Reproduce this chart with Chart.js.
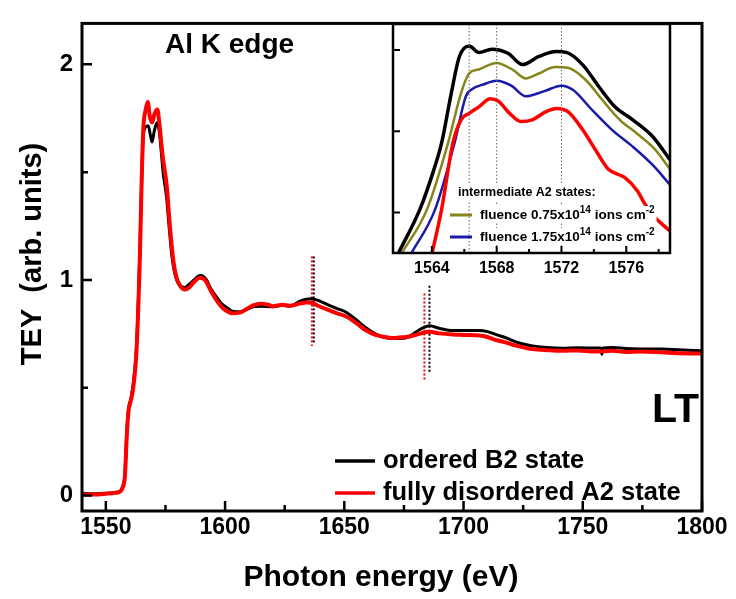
<!DOCTYPE html>
<html>
<head>
<meta charset="utf-8">
<script src="https://cdn.jsdelivr.net/npm/chart.js@4/dist/chart.umd.min.js"></script>
<style>
html,body{margin:0;padding:0;background:#fff;}
#wrap{position:relative;width:736px;height:599px;}
#main{position:absolute;left:0;top:0;}
#inset{position:absolute;left:353px;top:14px;}
</style>
</head>
<body>
<div id="wrap">
<canvas id="main" width="736" height="599"></canvas>
<canvas id="inset" width="340" height="270"></canvas>
</div>
<script>
// ---------- main panel data ----------
const energyB2 = [1540,1545,1550,1554,1556,1557,1558,1558.8,1559.5,1560.5,1561.5,1562.9,1564.3,1565.0,1565.7,1566.8,1567.8,1568.7,1569.4,1570.3,1571.5,1572.5,1573.2,1574,1575.5,1576.5,1577.6,1578.7,1579.7,1581,1583.1,1585,1587,1589.4,1591,1592.2,1594,1597.1,1599,1601.3,1603,1606.2,1609,1611.7,1615,1620.1,1624,1627.1,1631.3,1634,1636.2,1639,1643,1647,1650.8,1655,1659.2,1663,1667,1670.4,1673,1676,1679,1681.5,1684,1685.7,1690,1695.5,1700,1706.7,1710,1714,1717.9,1722,1726,1729,1735,1741.5,1748,1755,1757.5,1758,1758.5,1762.5,1768,1774,1783.4,1790,1800];
const teyB2 = [0.01,0.008,0.01,0.015,0.02,0.04,0.1,0.3,0.4,0.45,0.52,0.70,1.15,1.45,1.67,1.71,1.715,1.67,1.64,1.69,1.73,1.68,1.60,1.50,1.38,1.25,1.12,1.04,1.0,0.975,0.965,0.98,1.0,1.02,1.015,1.0,0.96,0.91,0.885,0.867,0.855,0.852,0.862,0.875,0.878,0.875,0.882,0.878,0.90,0.91,0.913,0.905,0.885,0.867,0.85,0.815,0.777,0.75,0.733,0.728,0.728,0.731,0.75,0.769,0.782,0.787,0.775,0.765,0.765,0.765,0.76,0.745,0.731,0.712,0.70,0.694,0.686,0.683,0.685,0.684,0.684,0.655,0.684,0.686,0.682,0.68,0.679,0.676,0.671];
const energyA2 = [1540,1545,1550,1554,1556,1557,1558,1558.8,1559.5,1560.5,1561.5,1562.9,1564.3,1565.0,1565.7,1566.7,1567.6,1568.4,1569.4,1570.4,1571.6,1572.5,1573.3,1574,1575.5,1576.5,1577.6,1578.7,1579.7,1581,1583.1,1585,1587,1589.4,1591,1592.2,1594,1597.1,1599,1601.3,1603,1606.2,1609,1611.7,1615,1618,1620.1,1624,1627.1,1631.3,1634,1636.2,1639,1643,1647,1650.8,1655,1659.2,1663,1667,1670.4,1673,1676,1679,1681.5,1684,1685.7,1690,1695.5,1700,1706.7,1710,1714,1717.9,1722,1726,1729,1735,1741.5,1748,1755,1762.5,1768,1774,1783.4,1790,1800];
const teyA2 = [0.005,0.005,0.008,0.012,0.018,0.035,0.09,0.28,0.39,0.44,0.5,0.68,1.12,1.45,1.70,1.79,1.825,1.76,1.73,1.77,1.79,1.72,1.63,1.56,1.44,1.30,1.16,1.06,1.01,0.975,0.955,0.965,0.99,1.01,1.005,0.99,0.95,0.895,0.87,0.852,0.845,0.848,0.865,0.882,0.89,0.885,0.878,0.885,0.88,0.89,0.895,0.894,0.88,0.862,0.845,0.83,0.80,0.765,0.745,0.735,0.731,0.733,0.735,0.742,0.75,0.757,0.759,0.752,0.747,0.745,0.742,0.735,0.72,0.709,0.695,0.685,0.679,0.674,0.671,0.673,0.668,0.671,0.666,0.668,0.664,0.66,0.659];
// dotted marker lines [energy, yStart, yEnd]
const markB2 = [[1637.2,1.109,0.71],[1685.7,0.973,0.566]];
const markA2 = [[1636.4,1.109,0.694],[1683.6,0.937,0.534]];
const xMajor = [1550,1600,1650,1700,1750,1800];
const xMinor = [1575,1625,1675,1725,1775];
const yMajor = [0,1,2];
const yMinor = [0.5,1.5];
const xTitle = 'Photon energy (eV)';
const yTitle = 'TEY  (arb. units)';

// ---------- inset data ----------
const insE_B2 = [1561.9,1563.26,1564.0,1564.6,1565.2,1565.7,1566.3,1566.9,1567.7,1568.7,1569.6,1570.6,1571.7,1572.3,1573.3,1574.3,1575.3,1576.4,1577.6,1578.7];
const insY_B2 = [0.485,1.037,1.45,1.855,2.47,2.92,3.05,2.97,3.01,2.96,2.82,2.92,2.98,2.97,2.82,2.55,2.30,2.14,1.94,1.65];
const insE_F075 = [1562.1,1563.7,1565.0,1565.8,1566.3,1566.9,1567.98,1569.0,1569.8,1570.6,1571.6,1572.4,1573.5,1574.5,1575.6,1576.6,1577.8,1578.7];
const insY_F075 = [0.485,1.037,1.855,2.47,2.71,2.76,2.84,2.755,2.65,2.71,2.79,2.78,2.63,2.39,2.14,1.98,1.77,1.53];
const insE_F175 = [1562.7,1564.2,1565.4,1566.1,1566.5,1567.1,1568.0,1568.9,1569.8,1570.9,1572.0,1572.7,1573.9,1575.1,1576.4,1577.6,1578.7];
const insY_F175 = [0.485,1.037,1.855,2.43,2.52,2.57,2.62,2.56,2.43,2.49,2.56,2.51,2.26,2.02,1.81,1.59,1.34];
const insE_A2 = [1564.0,1564.6,1565.3,1565.8,1566.3,1566.9,1567.6,1568.1,1568.8,1569.5,1570.2,1571.05,1571.7,1572.4,1573.3,1574.1,1574.9,1575.9,1576.7,1577.1,1577.6,1578.7];
const insY_A2 = [0.485,1.037,1.855,2.14,2.22,2.30,2.40,2.37,2.22,2.12,2.14,2.24,2.28,2.24,2.02,1.77,1.53,1.43,1.26,1.12,0.975,0.77];
const insGuides = [1566.3,1568.0,1572.0];
const insXMajor = [1564,1568,1572,1576];
const insXMinor = [1562,1566,1570,1574,1578];
const insYMajor = [1,2,3];

const FONT = "'Liberation Sans', Arial, Helvetica, sans-serif";
const zip = (xs, ys) => xs.map((x, i) => ({x: x, y: ys[i]}));

function framePlugin(opts) {
  return {
    id: 'frame' + opts.id,
    afterDatasetsDraw(chart) {
      const {ctx, chartArea: a, scales: {x, y}} = chart;
      ctx.save();
      ctx.strokeStyle = '#000';
      ctx.lineWidth = opts.frameW;
      ctx.strokeRect(a.left, a.top, a.right - a.left, a.bottom - a.top);
      ctx.lineWidth = opts.tickW;
      ctx.beginPath();
      opts.xMajor.forEach(v => { const p = x.getPixelForValue(v); ctx.moveTo(p, a.bottom); ctx.lineTo(p, a.bottom - opts.major); });
      opts.xMinor.forEach(v => { const p = x.getPixelForValue(v); ctx.moveTo(p, a.bottom); ctx.lineTo(p, a.bottom - opts.minor); });
      opts.yMajor.forEach(v => { const p = y.getPixelForValue(v); ctx.moveTo(a.left, p); ctx.lineTo(a.left + opts.major, p); });
      (opts.yMinor || []).forEach(v => { const p = y.getPixelForValue(v); ctx.moveTo(a.left, p); ctx.lineTo(a.left + opts.minor, p); });
      ctx.stroke();
      ctx.restore();
    }
  };
}

const mainText = {
  id: 'mainText',
  afterDraw(chart) {
    const ctx = chart.ctx;
    ctx.save();
    ctx.fillStyle = '#000';
    ctx.textBaseline = 'middle';
    ctx.textAlign = 'center';
    ctx.font = 'bold 30px ' + FONT;
    ctx.fillText(xTitle, 381, 578);
    ctx.font = 'bold 29px ' + FONT;
    ctx.save();
    ctx.translate(33, 254);
    ctx.rotate(-Math.PI / 2);
    ctx.fillText(yTitle, 0, 0);
    ctx.restore();
    ctx.textAlign = 'left';
    ctx.font = 'bold 28px ' + FONT;
    ctx.fillText('Al K edge', 165, 45);
    ctx.font = 'bold 41px ' + FONT;
    ctx.fillText('LT', 652, 411);
    ctx.lineWidth = 3.5;
    ctx.strokeStyle = '#000';
    ctx.beginPath(); ctx.moveTo(335, 461); ctx.lineTo(375, 461); ctx.stroke();
    ctx.strokeStyle = '#ff0000';
    ctx.beginPath(); ctx.moveTo(335, 493); ctx.lineTo(375, 493); ctx.stroke();
    ctx.font = 'bold 25.5px ' + FONT;
    ctx.fillText('ordered B2 state', 383, 461);
    ctx.fillText('fully disordered A2 state', 383, 493);
    ctx.restore();
  }
};

function lineDS(data, color, w, dash) {
  return {data: data, borderColor: color, borderWidth: w, pointRadius: 0, fill: false,
          borderDash: dash || [], cubicInterpolationMode: dash ? 'default' : 'monotone', tension: 0};
}

const mainDatasets = [
  lineDS(zip(energyA2, teyA2), '#ff0000', 4),
  lineDS(zip(energyB2, teyB2), '#000000', 3),
];
markA2.forEach(m => mainDatasets.push(lineDS([{x: m[0], y: m[1]}, {x: m[0], y: m[2]}], '#ff0000', 2, [2, 2])));
markB2.forEach(m => mainDatasets.push(lineDS([{x: m[0], y: m[1]}, {x: m[0], y: m[2]}], '#000000', 2, [2, 2])));

new Chart(document.getElementById('main'), {
  type: 'line',
  data: {datasets: mainDatasets},
  options: {
    responsive: false, animation: false, devicePixelRatio: 1,
    layout: {padding: {top: 11, right: 34, left: 0, bottom: 0}},
    plugins: {legend: {display: false}, tooltip: {enabled: false}},
    scales: {
      x: {
        type: 'linear', min: 1540, max: 1800,
        afterBuildTicks: s => { s.ticks = xMajor.map(v => ({value: v})); },
        afterFit: s => { s.height = 88; },
        ticks: {color: '#000', font: {family: FONT, size: 23, weight: 'bold'}, padding: 3, maxRotation: 0, autoSkip: false, callback: v => String(v)},
        grid: {display: false, drawTicks: false},
        border: {display: false}
      },
      y: {
        type: 'linear', min: -0.072, max: 2.19,
        afterBuildTicks: s => { s.ticks = yMajor.map(v => ({value: v})); },
        afterFit: s => { s.width = 82; },
        ticks: {color: '#000', font: {family: FONT, size: 24, weight: 'bold'}, padding: 9, callback: v => String(v)},
        grid: {display: false, drawTicks: false},
        border: {display: false}
      }
    }
  },
  plugins: [framePlugin({id: 'm', frameW: 3, tickW: 2.5, major: 10, minor: 6, xMajor, xMinor, yMajor, yMinor}), mainText]
});

// ---------- inset ----------
const insetText = {
  id: 'insetText',
  afterDatasetsDraw(chart) {
    const ctx = chart.ctx;
    ctx.save();
    ctx.textBaseline = 'middle';
    ctx.textAlign = 'left';
    ctx.fillStyle = '#000';
    const f = 'bold 13.5px ' + FONT, fs = 'bold 10px ' + FONT;
    function rich(parts, x, y, font) {
      let w = 0;
      parts.forEach(p => { ctx.font = p[1] ? fs : (font || f); w += ctx.measureText(p[0]).width; });
      ctx.fillStyle = '#fff';
      ctx.fillRect(x - 2, y - 9, w + 4, 17);
      ctx.fillStyle = '#000';
      let cx = x;
      parts.forEach(p => {
        ctx.font = p[1] ? fs : (font || f);
        ctx.fillText(p[0], cx, p[1] ? y - 5 : y);
        cx += ctx.measureText(p[0]).width;
      });
    }
    rich([['intermediate A2 states:', 0]], 105, 179, 'bold 12.5px ' + FONT);
    rich([['fluence 0.75x10', 0], ['14', 1], [' ions cm', 0], ['-2', 1]], 127, 201);
    rich([['fluence 1.75x10', 0], ['14', 1], [' ions cm', 0], ['-2', 1]], 127, 223);
    ctx.lineWidth = 3;
    ctx.strokeStyle = '#858519';
    ctx.beginPath(); ctx.moveTo(97, 201); ctx.lineTo(119, 201); ctx.stroke();
    ctx.strokeStyle = '#1a1aa8';
    ctx.beginPath(); ctx.moveTo(97, 223); ctx.lineTo(119, 223); ctx.stroke();
    ctx.restore();
  }
};

const insetDatasets = [];
insGuides.forEach(g => insetDatasets.push(lineDS([{x: g, y: 0.5}, {x: g, y: 3.32}], '#666666', 1, [1.5, 2])));
insetDatasets.push(lineDS(zip(insE_A2, insY_A2), '#ff0000', 3.5));
insetDatasets.push(lineDS(zip(insE_F175, insY_F175), '#1a1aa8', 2.5));
insetDatasets.push(lineDS(zip(insE_F075, insY_F075), '#858519', 2.5));
insetDatasets.push(lineDS(zip(insE_B2, insY_B2), '#000000', 3.5));

new Chart(document.getElementById('inset'), {
  type: 'line',
  data: {datasets: insetDatasets},
  options: {
    responsive: false, animation: false, devicePixelRatio: 1,
    layout: {padding: {top: 10, right: 23, left: 0, bottom: 0}},
    plugins: {legend: {display: false}, tooltip: {enabled: false}},
    scales: {
      x: {
        type: 'linear', min: 1561.6, max: 1578.7,
        afterBuildTicks: s => { s.ticks = insXMajor.map(v => ({value: v})); },
        afterFit: s => { s.height = 31; },
        ticks: {color: '#000', font: {family: FONT, size: 16, weight: 'bold'}, padding: 6, maxRotation: 0, autoSkip: false, callback: v => String(v)},
        grid: {display: false, drawTicks: false},
        border: {display: false}
      },
      y: {
        type: 'linear', min: 0.5, max: 3.32,
        afterBuildTicks: s => { s.ticks = insYMajor.map(v => ({value: v})); },
        afterFit: s => { s.width = 40; },
        ticks: {display: false},
        grid: {display: false, drawTicks: false},
        border: {display: false}
      }
    }
  },
  plugins: [{id: 'bg', beforeDatasetsDraw(chart) { const {ctx, chartArea: a} = chart; ctx.save(); ctx.fillStyle = '#fff'; ctx.fillRect(a.left, a.top, a.right - a.left, a.bottom - a.top); ctx.restore(); }},
            framePlugin({id: 'i', frameW: 2.5, tickW: 2, major: 7, minor: 4, xMajor: insXMajor, xMinor: insXMinor, yMajor: insYMajor}), insetText]
});
</script>
</body>
</html>
